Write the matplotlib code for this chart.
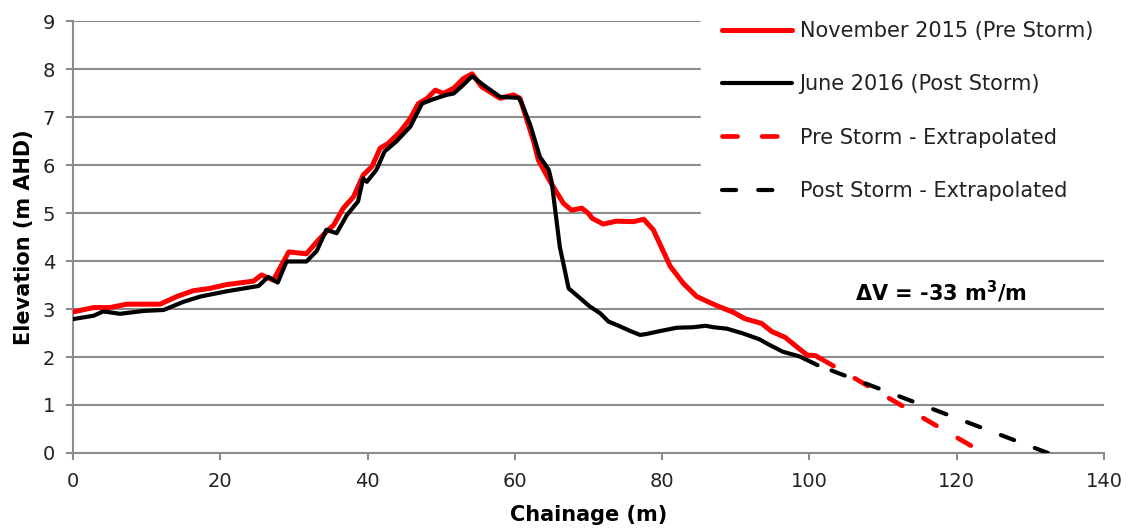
import matplotlib
matplotlib.use("Agg")
import matplotlib.pyplot as plt
from matplotlib.lines import Line2D

# surveyed profiles (chainage m, elevation m AHD)
pre_x = [0, 2.8, 5.0, 7.3, 11.8, 14.1, 16.3, 18.6, 20.9, 24.5, 25.6, 27.2, 29.3, 31.7,
         33.1, 34.4, 35.4, 36.7, 38.1, 39.4, 40.6, 41.7, 42.8, 44.4, 45.8, 46.9, 48.1,
         49.2, 50.3, 51.7, 53.0, 54.2, 55.5, 58.0, 59.8, 60.7, 62.5, 63.2, 64.8, 66.6,
         67.7, 69.1, 70.0, 70.5, 72.0, 73.8, 76.1, 77.5, 78.8, 81.1, 82.9, 84.7, 87.4,
         89.7, 91.2, 93.5, 94.9, 96.7, 98.3, 99.7, 100.8, 101.5]
pre_y = [2.94, 3.03, 3.03, 3.10, 3.10, 3.26, 3.38, 3.43, 3.51, 3.58, 3.71, 3.60, 4.19, 4.15,
         4.40, 4.61, 4.75, 5.10, 5.34, 5.79, 5.97, 6.35, 6.45, 6.69, 6.97, 7.28, 7.39,
         7.56, 7.49, 7.60, 7.80, 7.90, 7.63, 7.39, 7.46, 7.39, 6.52, 6.10, 5.65, 5.20,
         5.06, 5.10, 4.99, 4.89, 4.77, 4.83, 4.82, 4.87, 4.65, 3.89, 3.53, 3.26, 3.07,
         2.93, 2.80, 2.70, 2.53, 2.41, 2.21, 2.04, 2.03, 1.97]

post_x = [0, 2.8, 4.1, 6.4, 9.6, 12.3, 15.0, 17.3, 20.9, 25.2, 26.5, 27.8, 29.0, 31.7,
          33.1, 34.4, 35.8, 37.2, 38.7, 39.4, 39.9, 41.2, 42.3, 43.9, 45.8, 47.4, 48.9,
          50.7, 51.7, 53.0, 54.2, 55.7, 58.0, 60.5, 60.9, 62.1, 63.4, 64.6, 65.0, 66.1,
          67.3, 68.6, 70.2, 71.6, 72.7, 74.1, 75.7, 77.0, 77.9, 79.7, 82.0, 84.2, 85.9,
          87.0, 88.8, 91.0, 93.2, 94.6, 96.4, 98.7, 101.1]
post_y = [2.79, 2.86, 2.95, 2.90, 2.96, 2.98, 3.15, 3.26, 3.37, 3.48, 3.67, 3.55, 3.99, 3.99,
          4.21, 4.65, 4.58, 4.96, 5.24, 5.72, 5.65, 5.90, 6.28, 6.49, 6.80, 7.28, 7.37,
          7.46, 7.49, 7.67, 7.85, 7.67, 7.42, 7.40, 7.30, 6.83, 6.17, 5.90, 5.65, 4.30,
          3.43, 3.26, 3.05, 2.91, 2.74, 2.65, 2.54, 2.46, 2.48, 2.54, 2.61, 2.62, 2.65,
          2.62, 2.59, 2.49, 2.37, 2.25, 2.11, 2.01, 1.83]

# extrapolated toes
pre_ext_x = [101.5, 122.3]
pre_ext_y = [1.97, 0.12]
post_ext_x = [101.1, 132.4]
post_ext_y = [1.83, 0.0]

labels = ['November 2015 (Pre Storm)', 'June 2016 (Post Storm)',
          'Pre Storm - Extrapolated', 'Post Storm - Extrapolated']
dv_text = r'$\mathbf{\Delta}$V = -33 m$^\mathbf{3}$/m'

plt.rcParams['font.family'] = ['DejaVu Sans']
grid_c = '#8c8c8c'

fig = plt.figure(figsize=(11.34, 5.32), dpi=100)
ax = fig.add_axes([0.0644, 0.1485, 0.9091, 0.812])

l1, = ax.plot(pre_x, pre_y, color='#ff0000', lw=3.6, solid_capstyle='round',
              solid_joinstyle='round', zorder=3)
l3, = ax.plot(pre_ext_x, pre_ext_y, color='#ff0000', lw=3.4,
              linestyle=(0, (3.2, 5.2)), dash_capstyle='round', zorder=3)
l2, = ax.plot(post_x, post_y, color='black', lw=3.0, solid_capstyle='round',
              solid_joinstyle='round', zorder=4)
ax.plot(post_ext_x, post_ext_y, color='black', lw=3.0,
        linestyle=(5.1, (3.4, 5.3)), dash_capstyle='round', zorder=4)
# legend proxy without the dash offset
l4 = Line2D([], [], color='black', lw=3.0, linestyle=(0, (3.4, 5.3)),
            dash_capstyle='round')

ax.set_xlim(0, 140)
ax.set_ylim(0, 9)
ax.set_xticks(range(0, 141, 20))
ax.set_yticks(range(0, 10))
ax.grid(axis='y', color=grid_c, lw=1.5)
ax.set_axisbelow(True)
for s in ['top', 'right']:
    ax.spines[s].set_visible(False)
for s in ['left', 'bottom']:
    ax.spines[s].set_color(grid_c)
    ax.spines[s].set_linewidth(1.5)
ax.tick_params(axis='both', colors=grid_c, labelcolor='#222222', labelsize=14,
               length=5, width=1.5, direction='out')
ax.tick_params(axis='x', pad=9)
ax.tick_params(axis='y', pad=8)

ax.set_xlabel('Chainage (m)', fontsize=15, fontweight='bold', labelpad=10)
ax.set_ylabel('Elevation (m AHD)', fontsize=15, fontweight='bold', labelpad=6)

ax.text(117.8, 3.35, dv_text, fontsize=15, fontweight='bold',
        ha='center', va='center')

leg = fig.legend([l1, l2, l3, l4], labels, loc='upper left',
                 bbox_to_anchor=(0.618, 1.0), fontsize=15, frameon=True,
                 handlelength=3.4, handletextpad=0.34, labelspacing=1.6,
                 borderaxespad=0.0, borderpad=1.0)
leg.get_frame().set_facecolor('white')
leg.get_frame().set_edgecolor('white')
leg.get_frame().set_alpha(1)
for t in leg.get_texts():
    t.set_color('#222222')

fig.savefig('out.png', dpi=100)
